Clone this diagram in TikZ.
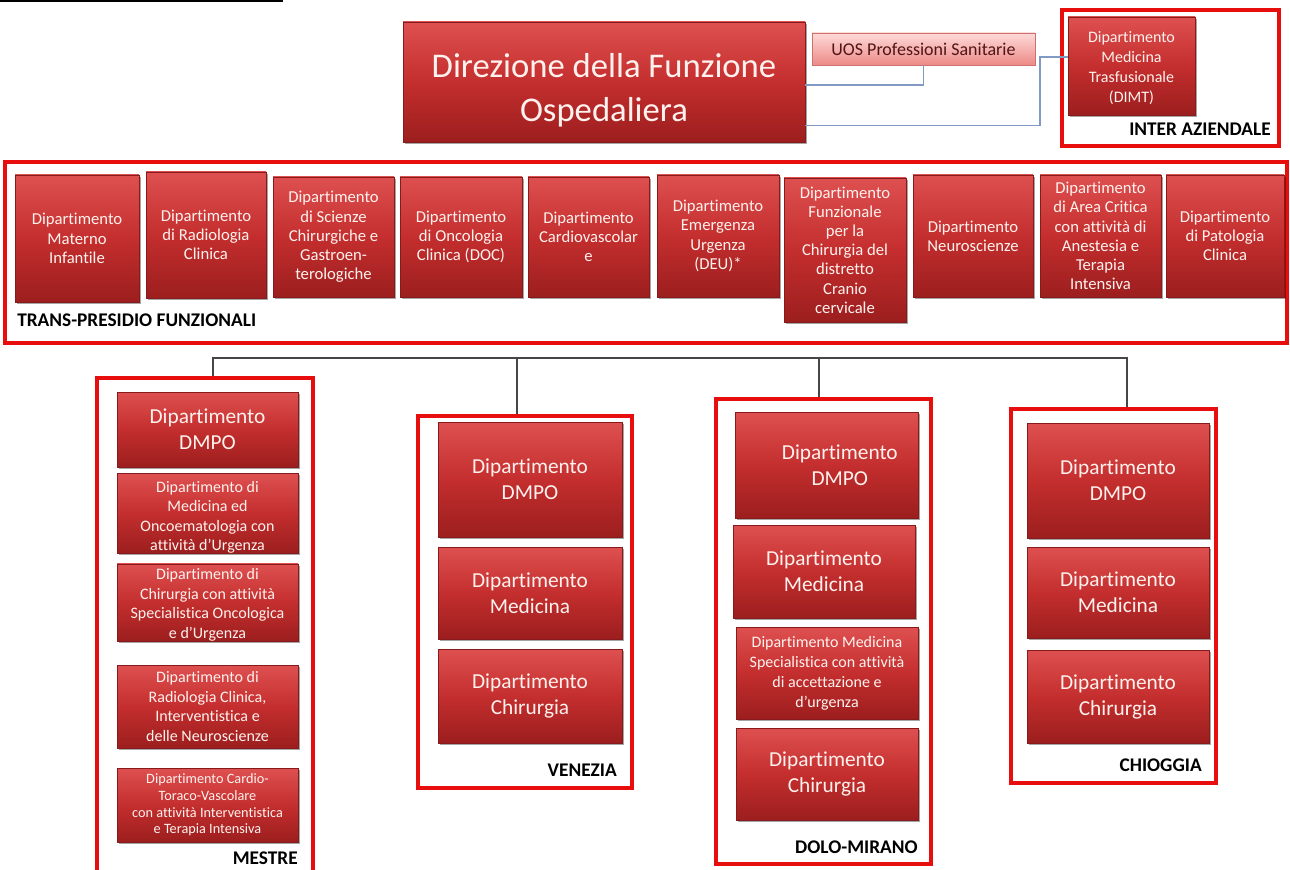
\documentclass[tikz,border=0pt]{standalone}
\usepackage{fontspec}
\setmainfont{Carlito}[Ligatures=NoCommon]
\usetikzlibrary{shadows}

\definecolor{btop}{RGB}{222,80,80}
\definecolor{bmid}{RGB}{196,46,46}
\definecolor{bbot}{RGB}{156,30,30}
\definecolor{bdraw}{RGB}{135,26,26}
\definecolor{btext}{RGB}{255,242,238}
\definecolor{frred}{RGB}{232,14,14}
\definecolor{utop}{RGB}{253,218,216}
\definecolor{ubot}{RGB}{238,138,136}
\definecolor{udraw}{RGB}{205,112,112}
\definecolor{utext}{RGB}{80,22,22}
\definecolor{cblue}{RGB}{128,154,196}
\definecolor{cgrey}{RGB}{70,70,70}

\tikzset{
  x=0.75pt, y=-0.75pt,
  dept/.style={draw=bdraw, line width=0.5pt, top color=btop, bottom color=bbot, middle color=bmid,
    text=btext, align=center, inner sep=0pt,
    drop shadow={shadow xshift=1.3pt, shadow yshift=-1.3pt, opacity=0.35, fill=black}},
  uosbox/.style={draw=udraw, line width=0.5pt, top color=utop, bottom color=ubot,
    text=utext, align=center, inner sep=0pt,
    drop shadow={shadow xshift=1pt, shadow yshift=-1pt, opacity=0.3, fill=black}},
  frame/.style={draw=frred, line width=3pt, inner sep=0pt},
  lab/.style={font=\fontsize{14.5}{17}\selectfont\bfseries, text=black, inner sep=0pt},
  conn/.style={draw=cblue, line width=0.9pt},
  tree/.style={draw=cgrey, line width=0.9pt},
  ft/.style={font=\fontsize{12.5}{14.4}\selectfont},
  fb/.style={font=\fontsize{16}{19.5}\selectfont},
  fs/.style={font=\fontsize{12}{14.6}\selectfont},
  fxs/.style={font=\fontsize{10.7}{12.5}\selectfont},
}

\newcommand\mkbox[7]{%
  \pgfmathsetmacro\mkX{(#3+#5)/2}%
  \pgfmathsetmacro\mkY{(#4+#6)/2}%
  \pgfmathsetmacro\mkW{(#5-#3)*0.75}%
  \pgfmathsetmacro\mkH{(#6-#4)*0.75}%
  \node[#1, minimum width=\mkW pt, minimum height=\mkH pt] (#2) at (\mkX,\mkY) {#7};}

\begin{document}
\begin{tikzpicture}
\useasboundingbox (0,0) rectangle (1290,870);
\fill[white] (0,0) rectangle (1290,870);
\clip (0,0) rectangle (1290,870);

% top-left underline fragment
\fill[black] (0,0) rectangle (283,2.2);

% ---------- top ----------
\mkbox{dept, font=\fontsize{26}{33}\selectfont}{main}{403}{22}{805}{142}{\rule{0pt}{31pt}Direzione della Funzione\\Ospedaliera}
\mkbox{uosbox, font=\fontsize{13.5}{16}\selectfont}{uos}{812}{33}{1035}{65}{UOS Professioni Sanitarie}
\mkbox{frame}{fI}{1062}{10}{1279}{146}{}
\mkbox{dept, font=\fontsize{12}{15}\selectfont}{dimt}{1068}{17}{1195}{115}{\rule{0pt}{12pt}Dipartimento\\Medicina\\Trasfusionale\\(DIMT)}
\node[lab, anchor=east] (lI) at (1271,129) {INTER AZIENDALE};

\draw[conn] ([yshift=-2.25pt]main.east) -| (uos.south);
\coordinate (k1) at (1040,57);
\draw[conn] ([yshift=12.75pt]main.south east) -| (k1) -- (k1 -| dimt.west);

% ---------- trans-presidio ----------
\mkbox{frame}{fT}{5}{162}{1287}{343}{}
\mkbox{dept, ft}{t1}{15}{175}{139}{302}{Dipartimento\\Materno\\Infantile}
\mkbox{dept, ft}{t2}{146}{172}{266}{298}{Dipartimento\\di Radiologia\\Clinica}
\mkbox{dept, ft}{t3}{273}{177}{394}{297}{Dipartimento\\di Scienze\\Chirurgiche e\\Gastroen-\\terologiche}
\mkbox{dept, ft}{t4}{400}{177}{522}{297}{Dipartimento\\di Oncologia\\Clinica (DOC)}
\mkbox{dept, ft}{t5}{528}{177}{649}{297}{Dipartimento\\Cardiovascolar\\e}
\mkbox{dept, ft}{t6}{657}{175}{779}{297}{Dipartimento\\Emergenza\\Urgenza\\(DEU)*}
\mkbox{dept, ft}{t7}{784}{178}{906}{322}{Dipartimento\\Funzionale\\per la\\Chirurgia del\\distretto\\Cranio\\cervicale}
\mkbox{dept, ft}{t8}{913}{175}{1033}{297}{Dipartimento\\Neuroscienze}
\mkbox{dept, ft}{t9}{1040}{175}{1161}{297}{Dipartimento\\di Area Critica\\con attività di\\Anestesia e\\Terapia\\Intensiva}
\mkbox{dept, ft}{t10}{1166}{175}{1284}{297}{Dipartimento\\di Patologia\\Clinica}
\node[lab, anchor=west] (lT) at (17,320) {TRANS-PRESIDIO FUNZIONALI};

% ---------- tree ----------
\mkbox{frame}{fM}{97}{378}{313}{885}{}
\mkbox{frame}{fV}{418}{416}{632}{788}{}
\mkbox{frame}{fD}{716}{399}{931}{864}{}
\mkbox{frame}{fC}{1011}{409}{1216}{783}{}
\coordinate (tM) at (213,358);
\coordinate (tV) at (517,358);
\coordinate (tD) at (819,358);
\coordinate (tC) at (1127,358);
\draw[tree] (tM |- fM.north) -- (tM) -- (tC) -- (tC |- fC.north);
\draw[tree] (tV) -- (tV |- fV.north);
\draw[tree] (tD) -- (tD |- fD.north);

% Mestre
\mkbox{dept, fb}{mA}{117}{392}{298}{467}{Dipartimento\\DMPO}
\mkbox{dept, fs}{mB}{117}{475}{298}{552}{\rule{0pt}{14pt}Dipartimento di\\Medicina ed\\Oncoematologia con\\attività d’Urgenza}
\mkbox{dept, fs}{mC}{117}{565}{298}{640}{\rule{0pt}{12pt}Dipartimento di\\Chirurgia con attività\\Specialistica Oncologica\\e d’Urgenza}
\mkbox{dept, fs}{mD}{117}{665}{298}{748}{Dipartimento di\\Radiologia Clinica,\\Interventistica e\\delle Neuroscienze}
\mkbox{dept, fxs}{mE}{117}{768}{298}{842}{Dipartimento Cardio-\\Toraco-Vascolare\\con attività Interventistica\\e Terapia Intensiva}
\node[lab, anchor=east] (lM) at (298,858) {MESTRE};

% Venezia
\mkbox{dept, fb}{vA}{438}{422}{622}{537}{Dipartimento\\DMPO}
\mkbox{dept, fb}{vB}{438}{547}{622}{639}{Dipartimento\\Medicina}
\mkbox{dept, fb}{vC}{438}{649}{622}{743}{Dipartimento\\Chirurgia}
\node[lab, anchor=east] (lV) at (617,770) {VENEZIA};

% Dolo-Mirano
\mkbox{dept, fb}{dA}{735}{412}{918}{518}{\hspace*{20pt}Dipartimento\\\hspace*{20pt}DMPO}
\mkbox{dept, fb}{dB}{733}{525}{915}{618}{Dipartimento\\Medicina}
\mkbox{dept, font=\fontsize{12}{15}\selectfont}{dC}{736}{627}{918}{719}{Dipartimento Medicina\\Specialistica con attività\\di accettazione e\\d’urgenza}
\mkbox{dept, fb}{dD}{736}{728}{918}{820}{Dipartimento\\Chirurgia}
\node[lab, anchor=east] (lD) at (918,847) {DOLO-MIRANO};

% Chioggia
\mkbox{dept, fb}{cA}{1027}{423}{1209}{538}{Dipartimento\\DMPO}
\mkbox{dept, fb}{cB}{1027}{547}{1209}{638}{Dipartimento\\Medicina}
\mkbox{dept, fb}{cC}{1027}{650}{1209}{743}{Dipartimento\\Chirurgia}
\node[lab, anchor=east] (lC) at (1202,765) {CHIOGGIA};
\end{tikzpicture}
\end{document}
